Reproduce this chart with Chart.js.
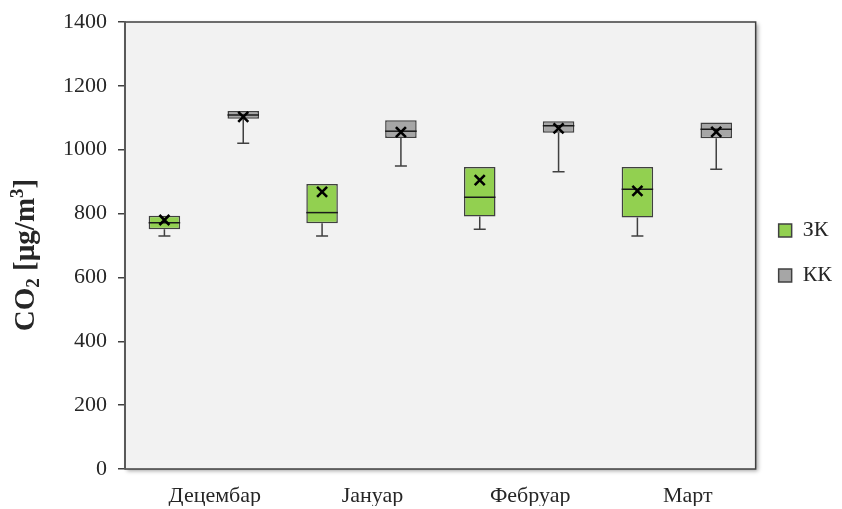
<!DOCTYPE html>
<html>
<head>
<meta charset="utf-8">
<script src="https://cdn.jsdelivr.net/npm/chart.js@4/dist/chart.umd.min.js"></script>
<style>
  html, body { margin: 0; padding: 0; background: #ffffff; }
  #wrap { width: 842px; height: 509px; position: relative; }
</style>
</head>
<body>
<div id="wrap"><canvas id="c"></canvas></div>
<script>
// Months on the category axis
const months = ['Децембар', 'Јануар', 'Фебруар', 'Март'];
const seriesNames = ['ЗК', 'КК'];
const yTicks = [0, 200, 400, 600, 800, 1000, 1200, 1400];

// ЗК — five-number summary and mean per month
const zkMin    = [730, 730, 751, 730];
const zkQ1     = [751, 770, 791, 788];
const zkMedian = [771, 803, 851, 876];
const zkQ3     = [793, 893, 946, 946];
const zkMax    = [793, 893, 946, 946];
const zkMean   = [780, 868, 905, 871];

// КК — five-number summary and mean per month
const kkMin    = [1020, 949, 931, 939];
const kkQ1     = [1097, 1037, 1053, 1036];
const kkMedian = [1109, 1058, 1075, 1064];
const kkQ3     = [1121, 1092, 1089, 1085];
const kkMax    = [1121, 1092, 1089, 1085];
const kkMean   = [1103, 1055, 1067, 1056];

const SERIF = "'Liberation Serif', 'Times New Roman', serif";
const TEXT = '#262626';
const LINE = '#404040';

function boxData(q1, q3) {
  return months.map((m, i) => [q1[i], q3[i]]);
}

// Plot-area background with a soft drop shadow and a dark frame
const plotFrame = {
  id: 'plotFrame',
  beforeDraw(chart) {
    const { ctx, chartArea: a } = chart;
    ctx.save();
    ctx.shadowColor = 'rgba(0,0,0,0.35)';
    ctx.shadowBlur = 4;
    ctx.shadowOffsetX = 2;
    ctx.shadowOffsetY = 2;
    ctx.fillStyle = '#f2f2f2';
    ctx.fillRect(a.left, a.top, a.right - a.left, a.bottom - a.top);
    ctx.restore();
    ctx.save();
    ctx.strokeStyle = LINE;
    ctx.lineWidth = 1.5;
    ctx.strokeRect(a.left, a.top, a.right - a.left, a.bottom - a.top);
    ctx.restore();
  }
};

// Medians, whiskers and mean markers on top of the Q1–Q3 bars
const boxExtras = {
  id: 'boxExtras',
  afterDatasetsDraw(chart) {
    const { ctx } = chart;
    const y = chart.scales.y;
    chart.data.datasets.forEach((ds, di) => {
      const meta = chart.getDatasetMeta(di);
      const st = ds.stats;
      meta.data.forEach((bar, i) => {
        const cx = bar.x;
        const hw = bar.width / 2;
        const pMin = y.getPixelForValue(st.min[i]);
        const pQ1 = y.getPixelForValue(st.q1[i]);
        const pMed = y.getPixelForValue(st.median[i]);
        const pQ3 = y.getPixelForValue(st.q3[i]);
        const pMax = y.getPixelForValue(st.max[i]);
        const pMean = y.getPixelForValue(st.mean[i]);
        ctx.save();
        ctx.strokeStyle = LINE;
        ctx.lineWidth = 1.5;
        ctx.beginPath();
        // lower whisker with cap
        ctx.moveTo(cx, pQ1); ctx.lineTo(cx, pMin);
        ctx.moveTo(cx - 6, pMin); ctx.lineTo(cx + 6, pMin);
        // upper whisker when it extends past the box
        if (st.max[i] > st.q3[i]) {
          ctx.moveTo(cx, pQ3); ctx.lineTo(cx, pMax);
          ctx.moveTo(cx - 6, pMax); ctx.lineTo(cx + 6, pMax);
        }
        ctx.stroke();
        // median
        ctx.strokeStyle = '#1a1a1a';
        ctx.beginPath();
        ctx.moveTo(cx - hw, pMed); ctx.lineTo(cx + hw, pMed);
        ctx.stroke();
        // mean marker (x)
        ctx.strokeStyle = '#000000';
        ctx.lineWidth = 2.6;
        const s = 5;
        ctx.beginPath();
        ctx.moveTo(cx - s, pMean - s); ctx.lineTo(cx + s, pMean + s);
        ctx.moveTo(cx - s, pMean + s); ctx.lineTo(cx + s, pMean - s);
        ctx.stroke();
        ctx.restore();
      });
    });
  }
};

// Vertical axis title with subscript and superscript
const yTitle = {
  id: 'yTitle',
  afterDraw(chart) {
    const { ctx } = chart;
    const parts = [
      { t: 'CO', size: 29, dy: 0 },
      { t: '2', size: 19, dy: 5 },
      { t: ' [µg/m', size: 29, dy: 0 },
      { t: '3', size: 19, dy: -11 },
      { t: ']', size: 29, dy: 0 }
    ];
    ctx.save();
    let total = 0;
    parts.forEach(p => {
      ctx.font = `bold ${p.size}px ${SERIF}`;
      p.w = ctx.measureText(p.t).width;
      total += p.w;
    });
    ctx.translate(34, 255);
    ctx.rotate(-Math.PI / 2);
    ctx.fillStyle = TEXT;
    ctx.textBaseline = 'alphabetic';
    let x = -total / 2;
    parts.forEach(p => {
      ctx.font = `bold ${p.size}px ${SERIF}`;
      ctx.fillText(p.t, x, p.dy);
      x += p.w;
    });
    ctx.restore();
  }
};

const data = {
  labels: months,
  datasets: [
    {
      label: seriesNames[0],
      data: boxData(zkQ1, zkQ3),
      stats: { min: zkMin, q1: zkQ1, median: zkMedian, q3: zkQ3, max: zkMax, mean: zkMean },
      backgroundColor: '#92d050',
      borderColor: LINE,
      borderWidth: 1.5,
      borderSkipped: false
    },
    {
      label: seriesNames[1],
      data: boxData(kkQ1, kkQ3),
      stats: { min: kkMin, q1: kkQ1, median: kkMedian, q3: kkQ3, max: kkMax, mean: kkMean },
      backgroundColor: '#a6a6a6',
      borderColor: LINE,
      borderWidth: 1.5,
      borderSkipped: false
    }
  ]
};

new Chart(document.getElementById('c'), {
  type: 'bar',
  data,
  plugins: [plotFrame, boxExtras, yTitle],
  options: {
    responsive: true,
    maintainAspectRatio: false,
    animation: false,
    layout: { padding: { top: 0, right: 0, bottom: 3, left: 0 } },
    datasets: {
      bar: { categoryPercentage: 1.0, barPercentage: 0.4 }
    },
    scales: {
      x: {
        grid: { display: false, drawTicks: false },
        border: { display: false },
        ticks: {
          color: TEXT,
          font: { family: SERIF, size: 22 },
          padding: 14,
          labelOffset: 11,
          maxRotation: 0
        },
        afterFit: s => { s.height = 37; }
      },
      y: {
        min: 0,
        max: 1400,
        afterBuildTicks: s => { s.ticks = yTicks.map(v => ({ value: v })); },
        grid: { drawOnChartArea: false, drawTicks: true, tickLength: 7, color: LINE, lineWidth: 1.5 },
        border: { display: true, color: '#595959', width: 2 },
        ticks: {
          color: TEXT,
          font: { family: SERIF, size: 22, lineHeight: 1.0 },
          padding: 11,
          callback: v => String(v)
        },
        afterFit: s => { s.width = 125; }
      }
    },
    plugins: {
      legend: {
        position: 'right',
        align: 'center',
        labels: {
          boxWidth: 13,
          boxHeight: 13,
          padding: 23,
          color: TEXT,
          font: { family: SERIF, size: 22 }
        }
      },
      tooltip: { enabled: false }
    }
  }
});
</script>
</body>
</html>
